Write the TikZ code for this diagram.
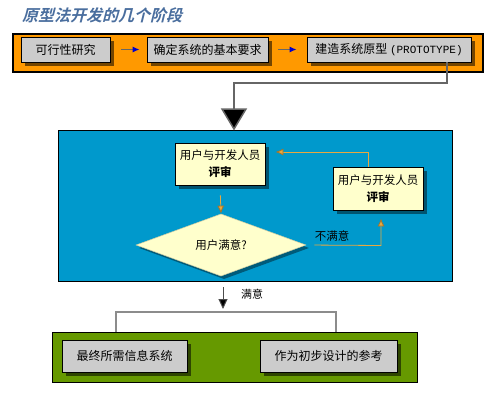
\documentclass[tikz,border=0pt]{standalone}
\usepackage{fontspec}
\setmainfont{Liberation Sans}
\newfontfamily\cjk{Noto Sans CJK SC}
\newfontfamily\cjktitle[FakeSlant=0.25]{Noto Sans CJK SC Bold}
\newfontfamily\monof{Liberation Mono}
\usetikzlibrary{shapes.geometric,shadows,arrows.meta}
\definecolor{orangebg}{HTML}{FF9900}
\definecolor{bluebg}{HTML}{0099CC}
\definecolor{greenbg}{HTML}{669900}
\definecolor{graybox}{HTML}{CCCCCC}
\definecolor{yellowbox}{HTML}{FFFFCC}
\definecolor{goldline}{HTML}{E8A840}
\definecolor{titlecol}{HTML}{4A6E9E}
\tikzset{
  panel/.style={draw=black,line width=1.2pt,minimum width=#1},
  graystep/.style={draw=black,line width=0.8pt,fill=graybox,inner sep=0pt,
     font=\cjk\fontsize{12}{14}\selectfont,
     drop shadow={shadow xshift=4pt,shadow yshift=-4pt,opacity=0.55,fill=black}},
  reviewbox/.style={draw=black,line width=0.8pt,fill=yellowbox,inner sep=0pt,
     minimum width=90pt,minimum height=42pt,align=center,
     font=\cjk\fontsize{11.5}{17}\selectfont,
     drop shadow={shadow xshift=4pt,shadow yshift=-4pt,opacity=0.45,fill=black}},
  smallarrow/.style={draw=gray!80!black,line width=1.2pt,
     -{Latex[length=7pt,width=6pt,fill=blue!80!black,color=blue!80!black]}},
  bigconn/.style={draw=black!60,line width=2.5pt},
  goldarrow/.style={draw=goldline,line width=0.8pt,
     -{Latex[length=8pt,width=7pt,fill=goldline,color=goldline!70!black]}},
  lbl/.style={font=\cjk\fontsize{11.5}{14}\selectfont,inner sep=0pt},
}
\begin{document}
\begin{tikzpicture}[x=1pt,y=-1pt]
\useasboundingbox (0,0) rectangle (495,401);
% title
\node[anchor=west,inner sep=0pt,text=titlecol,font=\cjktitle\fontsize{16}{17}\selectfont] (title) at (22,15) {原型法开发的几个阶段};

% orange panel
\node[panel=470pt,fill=orangebg,minimum height=38pt,inner sep=0pt] (orange) at (248,53) {};
\node[graystep,minimum width=89pt,minimum height=25pt] (s1) at (65.5,49.5) {可行性研究};
\node[graystep,minimum width=121pt,minimum height=25pt] (s2) at (207.5,49.5) {确定系统的基本要求};
\node[graystep,minimum width=164pt,minimum height=25pt] (s3) at (389,49.5) {建造系统原型 {\monof\fontsize{11}{14}\selectfont (PROTOTYPE)}};
\draw[smallarrow,shorten <=11pt,shorten >=7pt] (s1.east) -- (s2.west);
\draw[smallarrow,shorten <=10pt,shorten >=10pt] (s2.east) -- (s3.west);

% blue panel
\node[draw=black,line width=1pt,fill=bluebg,minimum width=394pt,minimum height=150pt,inner sep=0pt] (blue) at (255,206) {};
\coordinate (c1) at (447,83);
\coordinate (c2) at (234,83);
\draw[bigconn,-{Triangle[length=22pt,width=26pt,fill=black,line width=1.5pt]}]
   (s3.south -| c1) -- (c1) -- (c2) -- (c2 |- blue.north);

\node[reviewbox] (rev1) at (220,164) {用户与开发人员\\{\bfseries 评审}};
\node[reviewbox,minimum height=43pt] (rev2) at (378,188.5) {用户与开发人员\\{\bfseries 评审}};
\node[diamond,fill=yellowbox,draw=yellowbox!80!black,line width=0.5pt,minimum width=170pt,minimum height=48pt,inner sep=0pt,
   font=\cjk\fontsize{11.5}{14}\selectfont,
   drop shadow={shadow xshift=3pt,shadow yshift=-3pt,opacity=0.4,fill=black}] (dia) at (221,245) {用户满意?};

\coordinate (g1) at (368,152);
\draw[goldarrow,shorten >=10pt] ([xshift=-10pt]rev2.north) -- (g1) -- (g1 -| rev1.east);
\draw[goldarrow,shorten <=10pt] (rev1.south) -- (dia.north);
\coordinate (g2) at (381,245.5);
\draw[goldarrow,shorten <=8pt,shorten >=8pt] (dia.east) -- (g2) -- (g2 |- rev2.south);
\node[lbl] (nosat) at (332,236) {不满意};

% green panel
\node[draw=black,line width=1pt,fill=greenbg,minimum width=365pt,minimum height=50pt,inner sep=0pt] (green) at (234.5,357) {};
\coordinate (m1) at (223,287);
\draw[draw=black!70,line width=1pt,-{Triangle[length=10pt,width=9pt,fill=black]}] (m1) -- ++(0,22);
\node[lbl,font=\cjk\fontsize{11}{14}\selectfont] (sat) at (252,294) {满意};
\coordinate (b1) at (116,312);
\coordinate (b2) at (336,312);
\draw[draw=black!45,line width=2.5pt] (b1 |- green.north) -- (b1) -- (b2) -- (b2 |- green.north);
\node[graystep,minimum width=125pt,minimum height=32pt] (f1) at (124.5,356) {最终所需信息系统};
\node[graystep,minimum width=137pt,minimum height=32pt] (f2) at (328.5,356) {作为初步设计的参考};
\end{tikzpicture}
\end{document}
